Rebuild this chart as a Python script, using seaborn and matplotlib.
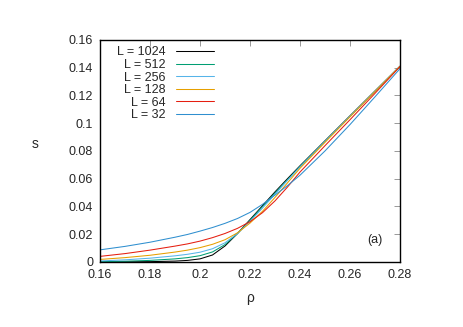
import pandas as pd
import matplotlib
matplotlib.use("Agg")
import matplotlib.pyplot as plt
import seaborn as sns

# density grid
rho = [0.16, 0.17, 0.18, 0.19, 0.195, 0.2, 0.205, 0.21, 0.215, 0.22,
       0.225, 0.23, 0.235, 0.24, 0.25, 0.26, 0.27, 0.28]

# s(rho) for each system size
s_1024 = [0.0000, 0.0001, 0.0002, 0.0006, 0.0011, 0.0022, 0.0050, 0.0115, 0.0205, 0.0305,
          0.0405, 0.0505, 0.0600, 0.0693, 0.0873, 0.1053, 0.1232, 0.1410]
s_512 = [0.0002, 0.0005, 0.0011, 0.0022, 0.0031, 0.0045, 0.0072, 0.0125, 0.0205, 0.0300,
         0.0398, 0.0497, 0.0593, 0.0688, 0.0870, 0.1050, 0.1230, 0.1410]
s_256 = [0.0007, 0.0015, 0.0027, 0.0044, 0.0055, 0.0070, 0.0095, 0.0138, 0.0205, 0.0292,
         0.0388, 0.0488, 0.0588, 0.0685, 0.0868, 0.1050, 0.1230, 0.1410]
s_128 = [0.0018, 0.0031, 0.0048, 0.0071, 0.0085, 0.0103, 0.0127, 0.0160, 0.0210, 0.0280,
         0.0365, 0.0465, 0.0570, 0.0675, 0.0862, 0.1046, 0.1228, 0.1410]
s_64 = [0.0040, 0.0060, 0.0085, 0.0114, 0.0130, 0.0150, 0.0175, 0.0205, 0.0242, 0.0290,
        0.0355, 0.0440, 0.0540, 0.0648, 0.0838, 0.1025, 0.1215, 0.1408]
s_32 = [0.0087, 0.0112, 0.0142, 0.0178, 0.0198, 0.0222, 0.0248, 0.0278, 0.0313, 0.0357,
        0.0415, 0.0482, 0.0550, 0.0625, 0.0800, 0.0990, 0.1190, 0.1393]

sizes = [1024, 512, 256, 128, 64, 32]
series = [s_1024, s_512, s_256, s_128, s_64, s_32]
colors = ["#000000", "#009e73", "#56b4e9", "#e69f00", "#e51e10", "#2f8fcf"]

xticks = [0.16, 0.18, 0.2, 0.22, 0.24, 0.26, 0.28]
xticklabels = ["0.16", "0.18", "0.2", "0.22", "0.24", "0.26", "0.28"]
yticks = [0, 0.02, 0.04, 0.06, 0.08, 0.1, 0.12, 0.14, 0.16]
yticklabels = ["0", "0.02", "0.04", "0.06", "0.08", "0.1", "0.12", "0.14", "0.16"]

sns.set_style("white")
plt.rcParams["font.family"] = ["Liberation Sans", "DejaVu Sans"]

fig = plt.figure(figsize=(4.63, 3.27), dpi=100)
ax = fig.add_axes([0.216, 0.199, 0.648, 0.679])

for L, s, c in zip(sizes, series, colors):
    df = pd.DataFrame({"rho": rho, "s": s})
    sns.lineplot(data=df, x="rho", y="s", color=c, lw=0.75, label=f"L = {L}", ax=ax)

ax.set_xlim(0.16, 0.28)
ax.set_ylim(0, 0.16)
ax.set_xticks(xticks)
ax.set_xticklabels(xticklabels)
ax.set_yticks(yticks)
ax.set_yticklabels(yticklabels)
ax.tick_params(direction="in", length=4, width=0.6, color="#888888",
               top=True, right=True, labelsize=9, pad=5)
for sp in ax.spines.values():
    sp.set_color("black")
    sp.set_linewidth(1.0)

ax.set_xlabel("ρ", fontsize=10, labelpad=7)
ax.set_ylabel("s", fontsize=10, rotation=0)
ax.yaxis.set_label_coords(-0.215, 0.5)

ax.text(0.94, 0.085, "(a)", transform=ax.transAxes, fontsize=9, ha="right")

# markerfirst=False right-aligns the labels next to the samples
ax.legend(loc="upper left", bbox_to_anchor=(0.03, 1.005), frameon=False,
          markerfirst=False, fontsize=9, handlelength=3.0,
          handletextpad=0.9, labelspacing=0.05, borderpad=0.1)

fig.savefig("out.png", dpi=100)
